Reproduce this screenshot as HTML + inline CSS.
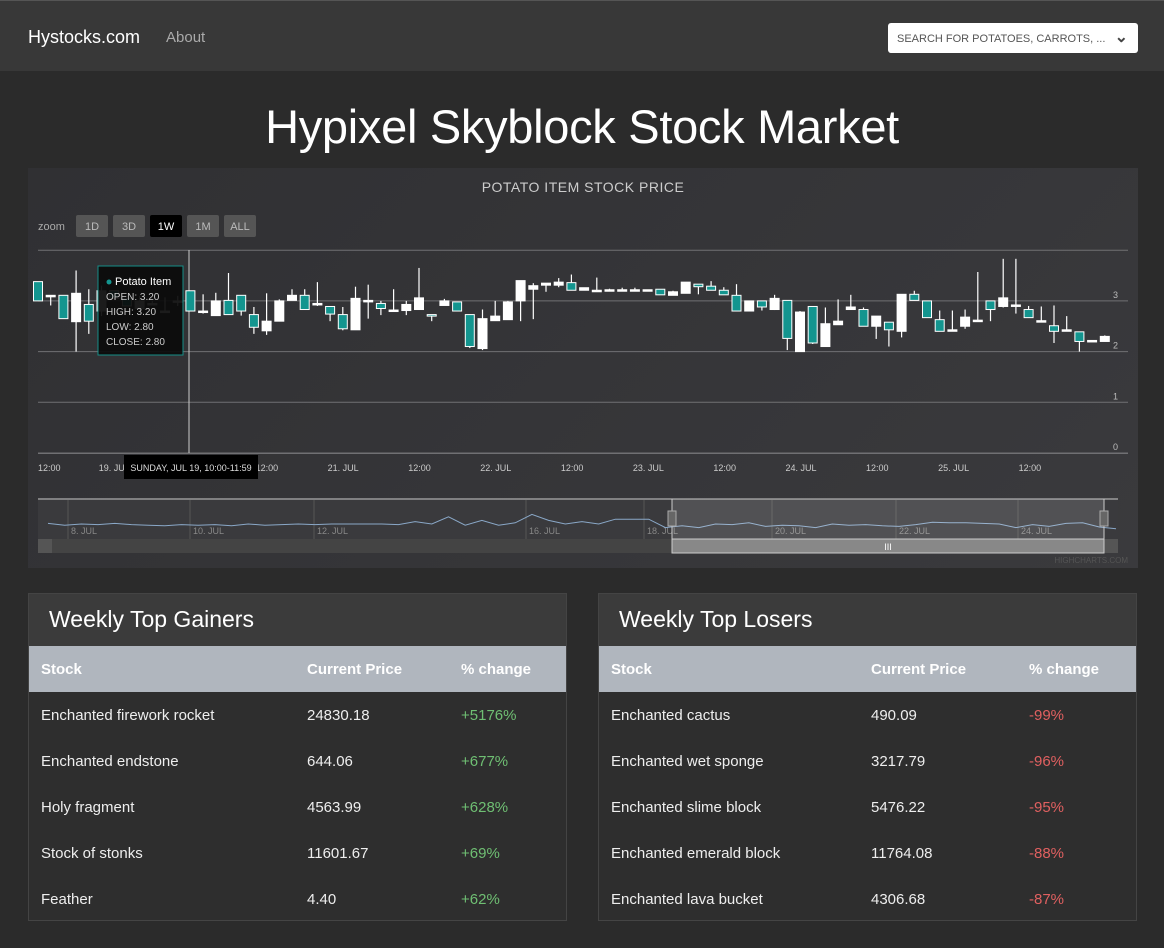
<!DOCTYPE html>
<html><head><meta charset="utf-8">
<style>
*{box-sizing:border-box;margin:0;padding:0}
body{width:1164px;height:948px;background:#2b2b2b;font-family:"Liberation Sans",sans-serif;color:#fff;overflow:hidden;position:relative}
#nav{position:absolute;left:0;top:0;width:1164px;height:71px;background:#383838;border-top:1px solid #555}
#brand{position:absolute;left:28px;top:26px;font-size:18px;color:#fff}
#about{position:absolute;left:166px;top:28px;font-size:15px;color:#aaa}
#search{position:absolute;left:888px;top:22px;width:250px;height:30px;background:#fff;border-radius:3px;color:#555;font-size:11px;padding:10px 0 0 9px}
#search span{position:absolute;right:10px;top:4px;font-size:16px;color:#444;font-weight:bold}
h1{position:absolute;left:0;width:1164px;top:99px;text-align:center;font-weight:normal;font-size:47px;letter-spacing:-0.3px;color:#fff}
#chart{position:absolute;left:28px;top:168px;width:1110px;height:400px;background:linear-gradient(135deg,#303033,#3a3a3d)}
.panel{position:absolute;top:593px;width:539px;height:328px;background:#2e2e2e;border:1px solid #444}
.panel .ph{height:52px;background:#3b3b3b;font-size:23px;padding:12px 0 0 20px}
.panel table{width:100%;border-collapse:collapse;font-size:15px}
.panel th{background:#b0b6be;color:#fff;text-align:left;font-weight:bold;height:46px;padding-left:12px}
.panel td{height:46px;padding-left:12px;color:#eee}
.g{color:#6fbf73!important}.r{color:#e06060!important}
</style></head><body>
<div id="nav">
<div id="brand">Hystocks.com</div>
<div id="about">About</div>
<div id="search">SEARCH FOR POTATOES, CARROTS, ...<span>&#8964;</span></div>
</div>
<h1>Hypixel Skyblock Stock Market</h1>
<div id="chart"><svg id="svg" width="1110" height="400" style="position:absolute;left:0;top:0"></svg></div>

<div class="panel" style="left:28px">
<div class="ph">Weekly Top Gainers</div>
<table>
<tr><th style="width:266px">Stock</th><th style="width:154px">Current Price</th><th>% change</th></tr>
<tr><td>Enchanted firework rocket</td><td>24830.18</td><td class="g">+5176%</td></tr>
<tr><td>Enchanted endstone</td><td>644.06</td><td class="g">+677%</td></tr>
<tr><td>Holy fragment</td><td>4563.99</td><td class="g">+628%</td></tr>
<tr><td>Stock of stonks</td><td>11601.67</td><td class="g">+69%</td></tr>
<tr><td>Feather</td><td>4.40</td><td class="g">+62%</td></tr>
</table></div>
<div class="panel" style="left:598px">
<div class="ph">Weekly Top Losers</div>
<table>
<tr><th style="width:260px">Stock</th><th style="width:158px">Current Price</th><th>% change</th></tr>
<tr><td>Enchanted cactus</td><td>490.09</td><td class="r">-99%</td></tr>
<tr><td>Enchanted wet sponge</td><td>3217.79</td><td class="r">-96%</td></tr>
<tr><td>Enchanted slime block</td><td>5476.22</td><td class="r">-95%</td></tr>
<tr><td>Enchanted emerald block</td><td>11764.08</td><td class="r">-88%</td></tr>
<tr><td>Enchanted lava bucket</td><td>4306.68</td><td class="r">-87%</td></tr>
</table></div>

<script>
const opens=[3.38,3.11,3.11,2.59,2.93,2.8,3.2,3.05,2.85,2.95,2.8,3.0,3.2,2.78,2.71,3.01,3.11,2.73,2.41,2.6,3.01,3.11,2.92,2.89,2.73,2.43,3.0,2.95,2.81,2.81,2.83,2.73,2.91,2.98,2.73,2.06,2.61,2.63,3.0,3.23,3.31,3.31,3.36,3.21,3.21,3.22,3.22,3.22,3.22,3.23,3.11,3.15,3.33,3.29,3.21,3.11,2.8,3.0,2.83,3.01,2.0,2.89,2.1,2.53,2.83,2.83,2.5,2.58,2.4,3.13,3.0,2.63,2.41,2.5,2.61,3.0,2.89,2.9,2.83,2.6,2.51,2.42,2.39,2.21,2.2];
const highs=[3.38,3.11,3.11,3.6,3.23,3.3,3.2,3.05,3.1,3.0,3.07,3.1,3.2,3.13,3.16,3.55,3.11,2.88,3.15,3.03,3.23,3.23,3.37,2.89,2.88,3.28,3.32,3.0,3.23,3.0,3.65,2.73,3.04,2.98,2.73,2.83,3.0,3.0,3.4,3.35,3.35,3.45,3.52,3.26,3.46,3.24,3.26,3.26,3.22,3.23,3.2,3.37,3.33,3.39,3.27,3.33,3.0,3.0,3.12,3.01,2.8,2.89,2.87,3.03,3.12,2.87,2.7,2.58,3.13,3.2,3.0,2.81,2.81,2.83,3.57,3.0,3.83,3.83,2.9,2.89,2.91,2.7,2.39,2.22,2.32];
const lows=[3.0,2.91,2.65,2.0,2.35,2.7,3.05,2.9,2.8,2.95,2.8,2.9,2.8,2.75,2.71,2.73,2.71,2.35,2.33,2.6,3.01,2.83,2.9,2.6,2.42,2.43,2.65,2.72,2.81,2.72,2.83,2.6,2.91,2.8,2.07,2.03,2.61,2.63,2.6,2.64,3.18,3.27,3.21,3.21,3.21,3.22,3.22,3.22,3.22,3.12,3.11,3.15,3.13,3.21,3.12,2.8,2.8,2.81,2.82,2.03,2.0,2.15,2.1,2.53,2.83,2.5,2.25,2.1,2.28,3.01,2.67,2.4,2.41,2.45,2.61,2.6,2.87,2.75,2.67,2.6,2.17,2.42,2.0,2.21,2.2];
const closes=[3.0,3.11,2.65,3.15,2.6,3.2,3.05,2.9,3.0,2.95,2.8,3.0,2.8,2.8,3.0,2.73,2.8,2.48,2.6,3.0,3.11,2.83,2.95,2.74,2.45,3.05,3.01,2.85,2.82,2.93,3.06,2.7,3.0,2.8,2.1,2.65,2.7,2.98,3.4,3.3,3.35,3.37,3.21,3.26,3.21,3.22,3.22,3.22,3.22,3.12,3.18,3.37,3.28,3.21,3.12,2.8,3.0,2.88,3.05,2.26,2.78,2.17,2.55,2.6,2.88,2.5,2.7,2.43,3.13,3.01,2.67,2.4,2.43,2.68,2.62,2.83,3.06,2.92,2.67,2.61,2.4,2.43,2.2,2.22,2.3];
const yTicks=[0,1,2,3,4];
const xTickLabels=["12:00","19. JUL","20. JUL","12:00","21. JUL","12:00","22. JUL","12:00","23. JUL","12:00","24. JUL","12:00","25. JUL","12:00"];
const navValues=[2.95,2.8,2.9,2.85,2.95,2.85,2.8,2.75,2.85,2.8,2.85,2.75,2.9,2.8,2.85,2.9,2.85,2.9,2.9,2.9,2.9,2.85,3.1,2.9,3.5,2.8,3.2,2.8,3.0,3.7,3.2,2.9,3.1,2.9,3.3,3.3,3.3,2.6,2.75,2.6,2.9,2.85,3.0,2.7,2.8,2.75,2.6,2.9,2.8,2.85,2.75,2.7,2.85,3.05,3.0,3.0,2.95,2.9,2.6,2.85,2.7,2.95,3.0,2.65,2.5];
const navLabels=["8. JUL","10. JUL","12. JUL","16. JUL","18. JUL","20. JUL","22. JUL","24. JUL"];
const navLabelX=[38,160,284,496,614,742,866,988];

const NS="http://www.w3.org/2000/svg";
const svg=document.getElementById('svg');
function mk(t,a,p){const e=document.createElementNS(NS,t);for(const k in a)e.setAttribute(k,a[k]);(p||svg).appendChild(e);return e;}
const X0=10,X1=1100,Y0=285,PXU=50.7;
const n=opens.length,step=12.7;
const xs=i=>X0+i*step;
const ys=v=>Y0-v*PXU;
const fnt='"Liberation Sans Narrow","Liberation Sans",sans-serif';
let t=mk('text',{x:555,y:24,'text-anchor':'middle',fill:'#ccc','font-size':14,'font-family':fnt,'letter-spacing':0.5});t.textContent='POTATO ITEM STOCK PRICE';


t=mk('text',{x:10,y:62,fill:'#aaa','font-size':11,'font-family':fnt});t.textContent='zoom';
const btns=['1D','3D','1W','1M','ALL'];
btns.forEach((b,i)=>{const g=mk('g',{});


mk('rect',{x:48+i*37,y:47,width:32,height:22,rx:2,fill:b=='1W'?'#000':'#555'},g);
const tt=mk('text',{x:64+i*37,y:62,'text-anchor':'middle',fill:b=='1W'?'#fff':'#bbb','font-size':11,'font-family':fnt},g);tt.textContent=b;});
yTicks.forEach(v=>{const l=mk('line',{x1:X0,x2:X1,y1:ys(v),y2:ys(v),stroke:'#707073','stroke-width':1});


if(v<4){const tt=mk('text',{x:1090,y:ys(v)-3,'text-anchor':'end',fill:'#bbb','font-size':9,'font-family':fnt});tt.textContent=v;

}});
mk('line',{x1:X0,x2:X1,y1:Y0+.5,y2:Y0+.5,stroke:'#707073'});
xTickLabels.forEach((s,i)=>{const tt=mk('text',{x:X0+i*76.3,y:303,'text-anchor':i==0?'start':'middle',fill:'#ccc','font-size':9,'font-family':fnt});tt.textContent=s;

});
mk('line',{x1:161,x2:161,y1:82,y2:Y0,stroke:'#ccc','stroke-width':1});
for(let i=0;i<n;i++){
 const o=opens[i],c=closes[i],h=highs[i],l=lows[i],x=xs(i);
 const g=mk('g',{});
 
 
 mk('line',{x1:x,x2:x,y1:ys(h),y2:ys(l),stroke:'#fff','stroke-width':1.2},g);
 const top=ys(Math.max(o,c)),bh=Math.max(1.5,Math.abs(ys(o)-ys(c)));
 mk('rect',{x:x-4.5,y:top,width:9,height:bh,fill:c<o?'#13958f':'#fff',stroke:'#fff','stroke-width':1},g);
}
const tg=mk('g',{});


mk('rect',{x:70,y:98,width:85,height:89,fill:'#0b0b0b',stroke:'#13958f','stroke-width':1,opacity:.93},tg);
mk('circle',{cx:81,cy:114,r:2.5,fill:'#13958f'},tg);
[['Potato Item',117,'#fff',11],['OPEN: 3.20',132,'#ccc',10],['HIGH: 3.20',147,'#ccc',10],['LOW: 2.80',162,'#ccc',10],['CLOSE: 2.80',177,'#ccc',10]].forEach((r,i)=>{const tt=mk('text',{x:i?78:87,y:r[1],fill:r[2],'font-size':r[3],'font-family':fnt},tg);tt.textContent=r[0];});
const xt=mk('g',{});


mk('rect',{x:96,y:287,width:134,height:24,fill:'#000'},xt);
t=mk('text',{x:163,y:303,'text-anchor':'middle',fill:'#ddd','font-size':9,'font-family':fnt},xt);t.textContent='SUNDAY, JUL 19, 10:00-11:59';
const NX0=10,NX1=1090,NY0=332,NY1=371;
mk('rect',{x:NX0,y:NY0,width:NX1-NX0,height:NY1-NY0,fill:'#3a3a3d'});
mk('line',{x1:NX0,x2:NX1,y1:331,y2:331,stroke:'#ccc'});
navLabelX.forEach((x,i)=>{mk('line',{x1:x+2,x2:x+2,y1:NY0,y2:NY1,stroke:'#555'});const tt=mk('text',{x:x+5,y:366,fill:'#888','font-size':9,'font-family':fnt});tt.textContent=navLabels[i];});
const nx=i=>NX0+10+i*(NX1-NX0-12)/(navValues.length-1);
const ny=v=>362-(v-2.4)*12;
const pl=mk('polyline',{points:navValues.map((v,i)=>nx(i)+','+ny(v)).join(' '),fill:'none',stroke:'#8aa8c8','stroke-width':1});


const sel=mk('rect',{x:644,y:331,width:432,height:40,fill:'rgba(255,255,255,0.12)',stroke:'#ccc'});


[644,1076].forEach(x=>{mk('rect',{x:x-4,y:343,width:8,height:15,fill:'#666',stroke:'#aaa'});});
mk('rect',{x:10,y:371,width:1080,height:14,fill:'#444'});
mk('rect',{x:10,y:371,width:14,height:14,fill:'#555'});
mk('rect',{x:1076,y:371,width:14,height:14,fill:'#555'});
const sb=mk('rect',{x:644,y:371,width:432,height:14,fill:'#888',stroke:'#ccc'});


t=mk('text',{x:860,y:382,'text-anchor':'middle',fill:'#fff','font-size':9});t.textContent='III';
t=mk('text',{x:1100,y:395,'text-anchor':'end',fill:'#555','font-size':8,'font-family':fnt});t.textContent='HIGHCHARTS.COM';
</script>
</body></html>
